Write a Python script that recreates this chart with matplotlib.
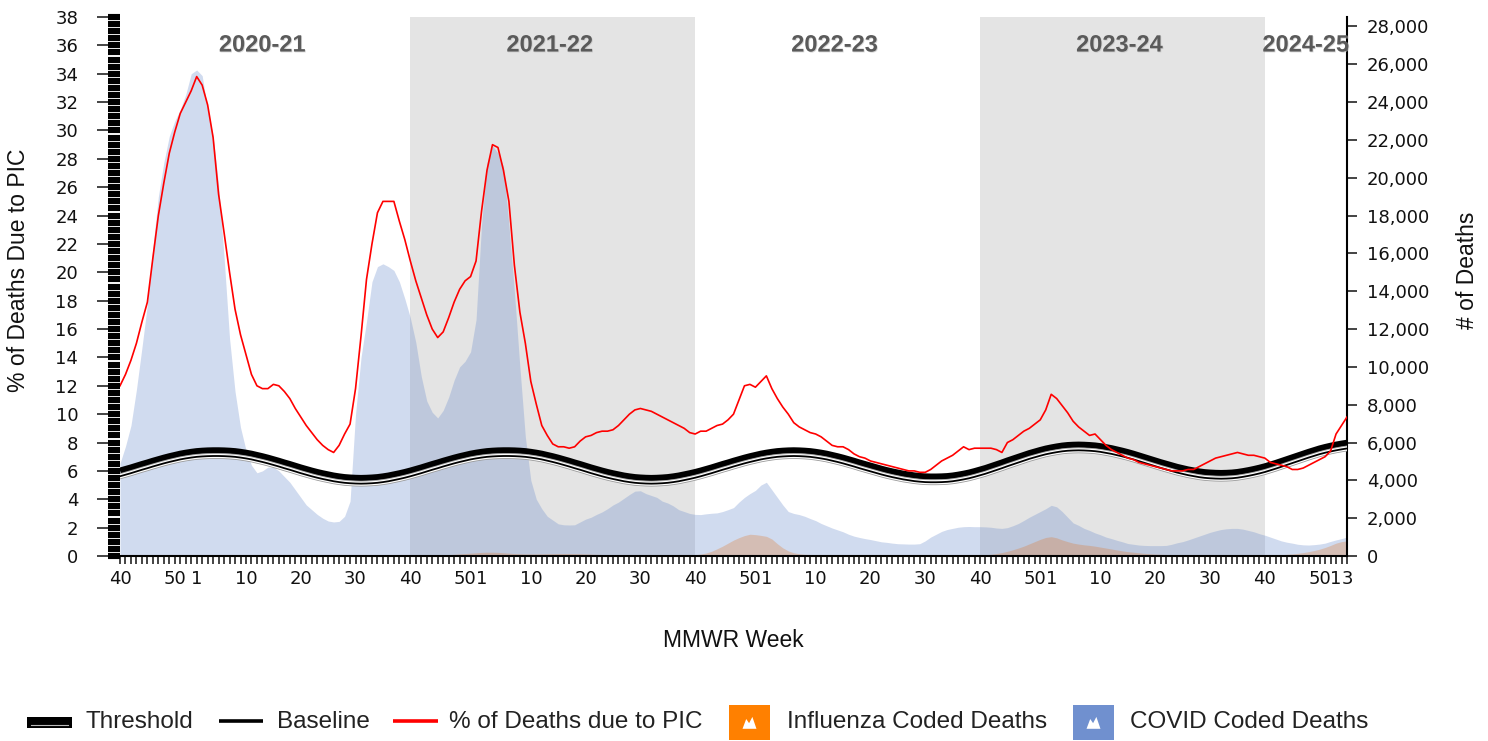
import matplotlib
matplotlib.use("Agg")
import matplotlib.pyplot as plt
import matplotlib.patheffects as pe
from matplotlib.lines import Line2D
from matplotlib.patches import Rectangle, Polygon
from matplotlib.ticker import FuncFormatter
import numpy as np

# ---------------- data ----------------
# MMWR weeks, 2020-21 season (wk 40, 2020) through wk 3, 2025
mmwr_week = (list(range(40, 54)) + list(range(1, 40)) +      # 2020-21 (2020 has 53 weeks)
             list(range(40, 53)) + list(range(1, 40)) +      # 2021-22
             list(range(40, 53)) + list(range(1, 40)) +      # 2022-23
             list(range(40, 53)) + list(range(1, 40)) +      # 2023-24
             list(range(40, 53)) + list(range(1, 4)))        # 2024-25

season_labels = ["2020-21", "2021-22", "2022-23", "2023-24", "2024-25"]
season_start = [0, 53, 105, 157, 209]
season_shaded = [False, True, False, True, False]

pic_pct = [
    # 2020-21
    12.0, 12.8, 13.8, 15.0, 16.5, 17.9, 21.0, 24.0, 26.3, 28.4,
    29.9, 31.2, 32.0, 32.8, 33.8, 33.2, 31.8, 29.5, 25.5, 22.8,
    20.0, 17.4, 15.6, 14.2, 12.8, 12.0, 11.8, 11.8, 12.1, 12.0,
    11.6, 11.1, 10.4, 9.8, 9.2, 8.7, 8.2, 7.8, 7.5, 7.3,
    7.8, 8.6, 9.3, 11.8, 15.5, 19.5, 22.0, 24.2, 25.0, 25.0,
    25.0, 23.6, 22.3,
    # 2021-22
    20.8, 19.4, 18.2, 17.0, 16.0, 15.4, 15.8, 16.8, 17.9, 18.8,
    19.4, 19.7, 20.8, 24.3, 27.2, 29.0, 28.8, 27.2, 25.0, 20.5,
    17.2, 15.0, 12.3, 10.7, 9.2, 8.5, 7.9, 7.7, 7.7, 7.6,
    7.7, 8.1, 8.4, 8.5, 8.7, 8.8, 8.8, 8.9, 9.2, 9.6,
    10.0, 10.3, 10.4, 10.3, 10.2, 10.0, 9.8, 9.6, 9.4, 9.2,
    9.0, 8.7,
    # 2022-23
    8.6, 8.8, 8.8, 9.0, 9.2, 9.3, 9.6, 10.0, 11.0, 12.0,
    12.1, 11.9, 12.3, 12.7, 11.8, 11.1, 10.5, 10.0, 9.4, 9.1,
    8.9, 8.7, 8.6, 8.4, 8.1, 7.8, 7.7, 7.7, 7.5, 7.2,
    7.0, 6.9, 6.7, 6.6, 6.5, 6.4, 6.3, 6.2, 6.1, 6.0,
    6.0, 5.9, 5.9, 6.1, 6.4, 6.7, 6.9, 7.1, 7.4, 7.7,
    7.5, 7.6,
    # 2023-24
    7.6, 7.6, 7.6, 7.5, 7.3, 8.0, 8.2, 8.5, 8.8, 9.0,
    9.3, 9.6, 10.3, 11.4, 11.1, 10.6, 10.1, 9.5, 9.1, 8.8,
    8.5, 8.6, 8.2, 7.8, 7.5, 7.3, 7.1, 6.9, 6.8, 6.6,
    6.5, 6.4, 6.3, 6.2, 6.1, 6.0, 6.0, 6.0, 6.1, 6.1,
    6.3, 6.5, 6.7, 6.9, 7.0, 7.1, 7.2, 7.3, 7.2, 7.1,
    7.1, 7.0,
    # 2024-25
    6.9, 6.6, 6.5, 6.4, 6.3, 6.1, 6.1, 6.2, 6.4, 6.6,
    6.8, 7.0, 7.4, 8.6, 9.2, 9.8,
]

baseline_pct = [
    5.62, 5.73, 5.84, 5.96, 6.08, 6.19, 6.31, 6.42, 6.53, 6.63, 6.72, 6.81, 6.88, 6.94, 6.99, 7.02, 7.04, 7.05,
    7.05, 7.04, 7.02, 6.99, 6.94, 6.88, 6.81, 6.72, 6.63, 6.53, 6.42, 6.31, 6.19, 6.08, 5.96, 5.84, 5.73, 5.62,
    5.52, 5.43, 5.35, 5.27, 5.21, 5.16, 5.13, 5.11, 5.10,
    5.11, 5.13, 5.16, 5.21, 5.27, 5.35, 5.43, 5.52, 5.62, 5.73, 5.84, 5.96, 6.08, 6.19, 6.31, 6.42, 6.53, 6.63,
    6.72, 6.81, 6.88, 6.94, 6.99, 7.02, 7.04, 7.05,
    7.05, 7.04, 7.02, 6.99, 6.94, 6.88, 6.81, 6.72, 6.63, 6.53, 6.42, 6.31, 6.19, 6.08, 5.96, 5.84, 5.73, 5.62,
    5.52, 5.43, 5.35, 5.27, 5.21, 5.16, 5.13, 5.11, 5.10,
    5.11, 5.13, 5.16, 5.21, 5.27, 5.35, 5.43, 5.52, 5.62, 5.73, 5.84, 5.96, 6.08, 6.19, 6.31, 6.42, 6.53, 6.63,
    6.72, 6.81, 6.88, 6.94, 6.99, 7.02, 7.04, 7.05,
    7.04, 7.02, 6.99, 6.94, 6.88, 6.81, 6.72, 6.63, 6.53, 6.42, 6.31, 6.19, 6.08, 5.97, 5.86, 5.75, 5.65, 5.56,
    5.48, 5.40, 5.34, 5.28, 5.24, 5.21, 5.20,
    5.20, 5.21, 5.23, 5.27, 5.33, 5.40, 5.48, 5.58, 5.69, 5.80, 5.93, 6.06, 6.19, 6.33, 6.46, 6.59, 6.72, 6.85,
    6.96, 7.07, 7.17, 7.25, 7.32, 7.38, 7.42, 7.44, 7.45,
    7.44, 7.42, 7.39, 7.34, 7.27, 7.20, 7.11, 7.02, 6.92, 6.81, 6.69, 6.57, 6.45, 6.33, 6.21, 6.10, 5.99, 5.88,
    5.79, 5.70, 5.63, 5.56, 5.51, 5.48, 5.46, 5.45,
    5.46, 5.48, 5.52, 5.58, 5.65, 5.73, 5.82, 5.92, 6.04, 6.16, 6.29, 6.42, 6.55, 6.68, 6.81, 6.94, 7.06, 7.18,
    7.28, 7.37, 7.45, 7.52, 7.58,
]

threshold_pct = [
    6.02, 6.13, 6.24, 6.36, 6.48, 6.59, 6.71, 6.82, 6.93, 7.03, 7.12, 7.21, 7.28, 7.34, 7.39, 7.42, 7.44, 7.45,
    7.45, 7.44, 7.42, 7.39, 7.34, 7.28, 7.21, 7.12, 7.03, 6.93, 6.82, 6.71, 6.59, 6.48, 6.36, 6.24, 6.13, 6.02,
    5.92, 5.83, 5.75, 5.67, 5.61, 5.56, 5.53, 5.51, 5.50,
    5.51, 5.53, 5.56, 5.61, 5.67, 5.75, 5.83, 5.92, 6.02, 6.13, 6.24, 6.36, 6.48, 6.59, 6.71, 6.82, 6.93, 7.03,
    7.12, 7.21, 7.28, 7.34, 7.39, 7.42, 7.44, 7.45,
    7.45, 7.44, 7.42, 7.39, 7.34, 7.28, 7.21, 7.12, 7.03, 6.93, 6.82, 6.71, 6.59, 6.48, 6.36, 6.24, 6.13, 6.02,
    5.92, 5.83, 5.75, 5.67, 5.61, 5.56, 5.53, 5.51, 5.50,
    5.51, 5.53, 5.56, 5.61, 5.67, 5.75, 5.83, 5.92, 6.02, 6.13, 6.24, 6.36, 6.48, 6.59, 6.71, 6.82, 6.93, 7.03,
    7.12, 7.21, 7.28, 7.34, 7.39, 7.42, 7.44, 7.45,
    7.44, 7.42, 7.39, 7.34, 7.28, 7.21, 7.12, 7.03, 6.93, 6.82, 6.71, 6.59, 6.48, 6.37, 6.26, 6.15, 6.05, 5.96,
    5.88, 5.80, 5.74, 5.68, 5.64, 5.61, 5.60,
    5.60, 5.61, 5.63, 5.67, 5.73, 5.80, 5.88, 5.98, 6.09, 6.20, 6.33, 6.46, 6.59, 6.73, 6.86, 6.99, 7.12, 7.25,
    7.36, 7.47, 7.57, 7.65, 7.72, 7.78, 7.82, 7.84, 7.85,
    7.84, 7.82, 7.79, 7.74, 7.67, 7.60, 7.51, 7.42, 7.32, 7.21, 7.09, 6.97, 6.85, 6.73, 6.61, 6.50, 6.39, 6.28,
    6.19, 6.10, 6.03, 5.96, 5.91, 5.88, 5.86, 5.85,
    5.86, 5.88, 5.92, 5.98, 6.05, 6.13, 6.22, 6.32, 6.44, 6.56, 6.69, 6.82, 6.95, 7.08, 7.21, 7.34, 7.46, 7.58,
    7.68, 7.77, 7.85, 7.92, 7.98,
]

covid_deaths = [
    # 2020-21
    4900, 5800, 6900, 8800, 11000, 13300, 16300, 19000, 20800, 22200,
    23000, 23600, 24400, 25500, 25700, 25400, 23600, 22200, 19600, 15800,
    11500, 8700, 6800, 5600, 4800, 4400, 4500, 4700, 4700, 4500,
    4200, 3900, 3500, 3100, 2700, 2450, 2200, 2000, 1850, 1800,
    1830, 2100, 2900, 7500, 10500, 12400, 14500, 15300, 15450, 15300,
    15100, 14500, 13600,
    # 2021-22
    12600, 11300, 9500, 8200, 7600, 7300, 7700, 8400, 9300, 10000,
    10300, 10800, 12500, 17500, 20800, 21700, 21300, 20600, 17500, 14000,
    10000, 6300, 4000, 3000, 2500, 2100, 1900, 1700, 1650, 1640,
    1650, 1800, 1950, 2050, 2200, 2330, 2500, 2700, 2850, 3050,
    3250, 3430, 3450, 3300, 3200, 3100, 2900, 2800, 2650, 2450,
    2350, 2250,
    # 2022-23
    2200, 2190, 2230, 2260, 2280, 2350, 2450, 2560, 2850, 3100,
    3300, 3470, 3750, 3900, 3500, 3100, 2700, 2350, 2250, 2190,
    2100, 1980, 1870, 1720, 1600, 1480, 1380, 1280, 1150, 1050,
    980, 920, 870, 810, 750, 720, 680, 650, 640, 630,
    630, 650, 800, 1000, 1150, 1300, 1400, 1460, 1520, 1550,
    1560, 1550,
    # 2023-24
    1550, 1540, 1520, 1480, 1460, 1500, 1600, 1720, 1880, 2050,
    2200, 2350, 2500, 2680, 2600, 2350, 2050, 1750, 1620, 1460,
    1350, 1220, 1120, 1000, 920, 830, 750, 660, 620, 580,
    560, 550, 550, 550, 560, 620, 700, 760, 850, 950,
    1050, 1150, 1250, 1330, 1400, 1440, 1460, 1460, 1420, 1350,
    1280, 1180,
    # 2024-25
    1100, 1000, 900, 800, 730, 680, 620, 590, 580, 600,
    630, 680, 770, 850, 920, 1000,
]

flu_deaths = [
    # 2020-21
    15, 15, 18, 20, 20, 22, 22, 20, 20, 18,
    18, 16, 15, 15, 14, 14, 13, 13, 12, 12,
    12, 12, 12, 12, 12, 12, 12, 12, 12, 12,
    12, 12, 12, 12, 12, 12, 12, 12, 12, 12,
    12, 12, 12, 12, 12, 12, 12, 12, 14, 15,
    16, 18, 20,
    # 2021-22
    20, 20, 25, 30, 35, 45, 55, 70, 90, 110,
    130, 150, 170, 190, 200, 200, 190, 170, 150, 130,
    120, 110, 110, 110, 115, 120, 125, 130, 130, 130,
    125, 120, 110, 100, 90, 80, 70, 60, 55, 50,
    45, 40, 35, 30, 30, 30, 30, 30, 35, 40,
    45, 55,
    # 2022-23
    70, 100, 160, 250, 380, 520, 680, 840, 970, 1080,
    1150, 1130, 1090, 1040, 900, 650, 430, 270, 170, 120,
    90, 80, 70, 65, 60, 55, 50, 48, 45, 42,
    40, 38, 35, 33, 30, 30, 28, 27, 26, 25,
    25, 25, 25, 25, 26, 27, 28, 30, 32, 34,
    36, 38,
    # 2023-24
    40, 60, 90, 130, 180, 250, 330, 420, 520, 640,
    760, 880, 980, 1020, 960, 850, 760, 680, 630, 590,
    560, 520, 470, 420, 370, 320, 270, 230, 200, 170,
    140, 120, 100, 90, 80, 70, 60, 55, 50, 45,
    40, 38, 35, 33, 32, 30, 30, 30, 32, 34,
    36, 38,
    # 2024-25
    40, 50, 60, 70, 90, 110, 140, 180, 230, 290,
    360, 450, 560, 680, 760, 800,
]

pct_ticks = list(range(0, 39, 2))
death_ticks = list(range(0, 28001, 2000))
label_weeks = [1, 10, 20, 30, 40, 50]

# ---------------- figure ----------------
W, H = 1488, 741
fig = plt.figure(figsize=(W / 100, H / 100), dpi=100)
fig.patch.set_facecolor("white")
L, R, T, B = 120, 1347, 17, 556

ax = fig.add_axes([L / W, 1 - B / H, (R - L) / W, (B - T) / H])
ax2 = ax.twinx()
ax.set_zorder(ax2.get_zorder() + 1)
ax.patch.set_visible(False)

n = len(mmwr_week)
x = np.arange(n)

# season shading + deaths areas (right axis)
for k, s in enumerate(season_start):
    if season_shaded[k]:
        e = season_start[k + 1]
        ax2.axvspan(s, e, color="#e4e4e4", lw=0, zorder=0)
ax2.fill_between(x, 0, covid_deaths, color="#6f8fce", alpha=0.32, lw=0, zorder=1)
ax2.fill_between(x, 0, flu_deaths, color="#e0701e", alpha=0.28, lw=0, zorder=2)
ax2.set_ylim(0, 28500)
ax2.set_yticks(death_ticks)
ax2.yaxis.set_major_formatter(FuncFormatter(lambda v, p: f"{int(v):,}"))
ax2.tick_params(axis="y", direction="out", length=7.2, width=1.1, pad=7.0,
                labelsize=13, colors="#111111")
for sp in ["left", "top", "bottom"]:
    ax2.spines[sp].set_visible(False)
ax2.spines["right"].set_linewidth(1.5)

# lines (left axis)
ax.plot(x, threshold_pct, color="black", lw=4.4, solid_capstyle="butt", zorder=3)
ax.plot(x, baseline_pct, color="black", lw=1.3, zorder=4,
        path_effects=[pe.Stroke(linewidth=4.2, foreground="#9a9a9a"),
                      pe.Stroke(linewidth=3.0, foreground="white"), pe.Normal()])
ax.plot(x, pic_pct, color="#ff0000", lw=1.2, zorder=5)

ax.set_xlim(0, n - 1)
ax.set_ylim(0, 38)
ax.set_yticks(pct_ticks)
ax.set_yticks(np.arange(0, 38.01, 0.5), minor=True)
ax.yaxis.remove_overlapping_locs = False
ax.tick_params(axis="y", which="major", direction="out", length=16.6, width=1.1,
               pad=13.5, labelsize=13, colors="#111111")
ax.tick_params(axis="y", which="minor", direction="out", length=8.6, width=4.4, color="black")

xt_labels = []
for i, w in enumerate(mmwr_week):
    xt_labels.append(str(w) if (w in label_weeks or i == n - 1) else "")
ax.set_xticks(x)
ax.set_xticklabels(xt_labels)
ax.tick_params(axis="x", direction="out", length=5.8, width=1.1, pad=4.5,
               labelsize=13, colors="#111111")
for sp in ["left", "top", "right"]:
    ax.spines[sp].set_visible(False)
ax.spines["bottom"].set_linewidth(1.5)

# season labels
for k, lab in enumerate(season_labels):
    s = season_start[k]
    e = season_start[k + 1] - 1 if k + 1 < len(season_start) else n - 1
    ax.text((s + e) / 2, 0.948, lab, transform=ax.get_xaxis_transform(),
            ha="center", va="center", fontsize=17, fontweight="bold",
            family="Liberation Sans", color="#5a5a5a", zorder=6,
            path_effects=[pe.withSimplePatchShadow(offset=(0.6, -0.6), shadow_rgbFace="#bbbbbb", alpha=0.6)])

# axis titles
ax.set_ylabel("% of Deaths Due to PIC", fontsize=16.5, family="Liberation Sans", color="#111111")
ax.yaxis.set_label_coords(-0.083, 0.53)
ax.yaxis.label.set_va("center")
ax2.set_ylabel("# of Deaths", fontsize=16.5, family="Liberation Sans", color="#111111")
ax2.yaxis.set_label_coords(1.098, 0.53)
ax2.yaxis.label.set_va("center")
ax.set_xlabel("MMWR Week", fontsize=16.5, family="Liberation Sans", color="#111111")
ax.xaxis.set_label_coords(0.5, -0.156)
ax.xaxis.label.set_va("center")

# ---------------- legend (figure pixels) ----------------
def fx(px):
    return px / W

def fy(py):
    return 1 - py / H

ly = 722
tkw = dict(fontsize=17.5, family="Liberation Sans", color="#222222", va="center", ha="left")
# Threshold
fig.add_artist(Rectangle((fx(27), fy(728)), 45 / W, 11 / H, transform=fig.transFigure,
                         facecolor="black", edgecolor="none"))
fig.add_artist(Line2D([fx(31), fx(68)], [fy(725), fy(725)], transform=fig.transFigure,
                      color="#bbbbbb", lw=0.8))
fig.text(fx(85), fy(ly), "Threshold", **tkw)
# Baseline
fig.add_artist(Line2D([fx(219), fx(263)], [fy(721), fy(721)], transform=fig.transFigure,
                      color="black", lw=2.6, solid_capstyle="butt"))
fig.text(fx(277), fy(ly), "Baseline", **tkw)
# PIC
fig.add_artist(Line2D([fx(393), fx(438)], [fy(721), fy(721)], transform=fig.transFigure,
                      color="#ff0000", lw=2.6, solid_capstyle="butt"))
fig.text(fx(449), fy(ly), "% of Deaths due to PIC", **tkw)


def square_icon(x0, color):
    y0, w, h = 705, 41, 35
    fig.add_artist(Rectangle((fx(x0), fy(y0 + h)), w / W, h / H, transform=fig.transFigure,
                             facecolor=color, edgecolor="none"))
    pts = [(0.33, 0.68), (0.42, 0.40), (0.49, 0.52), (0.57, 0.34), (0.67, 0.68)]
    fig.add_artist(Polygon([(fx(x0 + a * w), fy(y0 + b * h)) for a, b in pts],
                           closed=True, transform=fig.transFigure,
                           facecolor="white", edgecolor="none"))


square_icon(729, "#ff8000")
fig.text(fx(787), fy(ly), "Influenza Coded Deaths", **tkw)
square_icon(1073, "#7090cf")
fig.text(fx(1130), fy(ly), "COVID Coded Deaths", **tkw)

fig.savefig("out.png", dpi=100, facecolor="white")
